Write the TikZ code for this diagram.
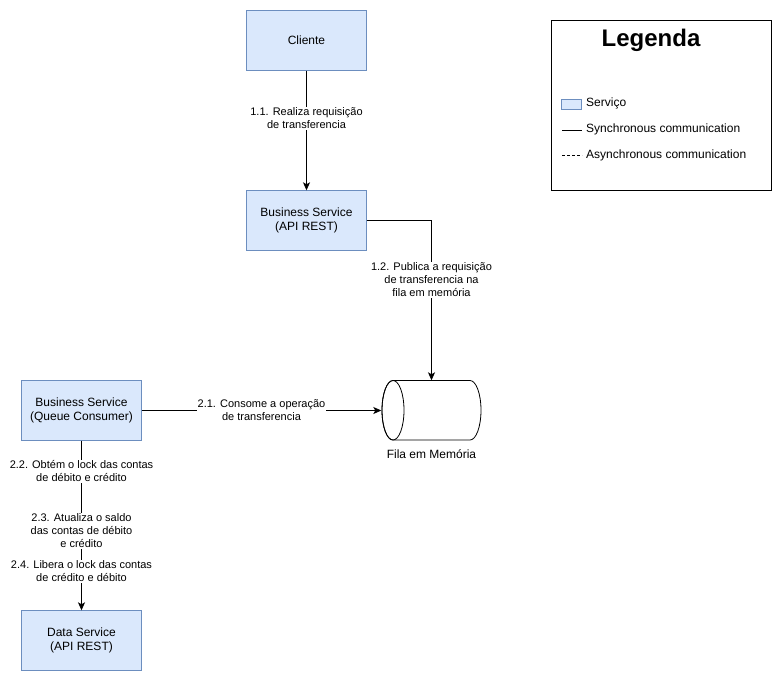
\documentclass[tikz,border=0pt]{standalone}
\usepackage{fontspec}
\setmainfont{Liberation Sans}
\usetikzlibrary{arrows.meta}
\definecolor{svcfill}{HTML}{DAE8FC}
\definecolor{svcdraw}{HTML}{6C8EBF}
\begin{document}
\begin{tikzpicture}[x=1pt,y=-1pt,
  svc/.style={draw=svcdraw,fill=svcfill,minimum width=120pt,minimum height=60pt,
    align=center,inner sep=0pt,font=\fontsize{12}{14}\selectfont},
  lbl/.style={fill=white,align=center,inner sep=1pt,font=\fontsize{11}{13}\selectfont},
  conn/.style={draw,line width=0.8pt,-{Stealth[length=8pt,width=7pt,inset=2pt]}},
  legtxt/.style={anchor=west,inner sep=0pt,font=\fontsize{12}{14}\selectfont}]
\useasboundingbox (0,0) rectangle (782,681);

% services
\node[svc] (cliente) at (306.5,40.5) {Cliente};
\node[svc] (bsapi) at (306.5,220.5) {Business Service\\(API REST)};
\node[svc] (bsq) at (81.5,410.5) {Business Service\\(Queue Consumer)};
\node[svc] (data) at (81.5,640.5) {Data Service\\(API REST)};

% in-memory queue drawn as a horizontal cylinder
\node[minimum width=100pt,minimum height=60pt,inner sep=0pt] (fila) at (431.5,410.5) {};
\draw[line width=0.8pt,fill=white] (393,380.5) -- (470,380.5)
  arc[start angle=-90,end angle=90,x radius=11,y radius=29.75] -- (393,440)
  arc[start angle=90,end angle=270,x radius=11,y radius=29.75] -- cycle;
\draw[line width=0.8pt] (393,410.25) ellipse[x radius=11,y radius=29.75];
\node[font=\fontsize{12}{14}\selectfont,inner sep=0pt] (filalbl) at (431.5,454) {Fila em Memória};

% connectors
\draw[conn] (cliente.south) -- (bsapi.north)
  node[lbl,pos=0.4] (l11) {1.1. Realiza requisição\\de transferencia};
\coordinate (bend) at (431.5,220.5);
\draw[conn] (bsapi.east) -- (bend) -- (fila.north)
  node[lbl,pos=0.37] (l12) {1.2. Publica a requisição\\de transferencia na\\fila em memória};
\draw[conn] (bsq.east) -- (fila.west)
  node[lbl,pos=0.5] (l21) {2.1. Consome a operação\\de transferencia};
\draw[conn] (bsq.south) -- (data.north)
  node[lbl,pos=0.18] (l22) {2.2. Obtém o lock das contas\\de débito e crédito}
  node[lbl,pos=0.53] (l23) {2.3. Atualiza o saldo\\das contas de débito\\e crédito}
  node[lbl,pos=0.77] (l24) {2.4. Libera o lock das contas\\de crédito e débito};

% legend
\node[draw,line width=0.8pt,minimum width=220pt,minimum height=170pt,inner sep=0pt] (legend) at (661.5,105.5) {};
\node[font=\fontsize{24}{28}\selectfont\bfseries,inner sep=0pt] (legtitle) at (651,40) {Legenda};
\node[draw=svcdraw,fill=svcfill,minimum width=20pt,minimum height=10pt,inner sep=0pt] (legsvc) at (571.5,104) {};
\node[legtxt] (legsvctxt) at (586,103) {Serviço};
\coordinate (s1) at (562,130.5);
\coordinate (s2) at (582,130.5);
\draw[line width=0.8pt] (s1) -- (s2);
\node[legtxt] (legsync) at (586,129) {Synchronous communication};
\coordinate (a1) at (562,155.5);
\coordinate (a2) at (582,155.5);
\draw[line width=0.8pt,dash pattern=on 3pt off 2pt] (a1) -- (a2);
\node[legtxt] (legasync) at (586,155) {Asynchronous communication};
\end{tikzpicture}
\end{document}
